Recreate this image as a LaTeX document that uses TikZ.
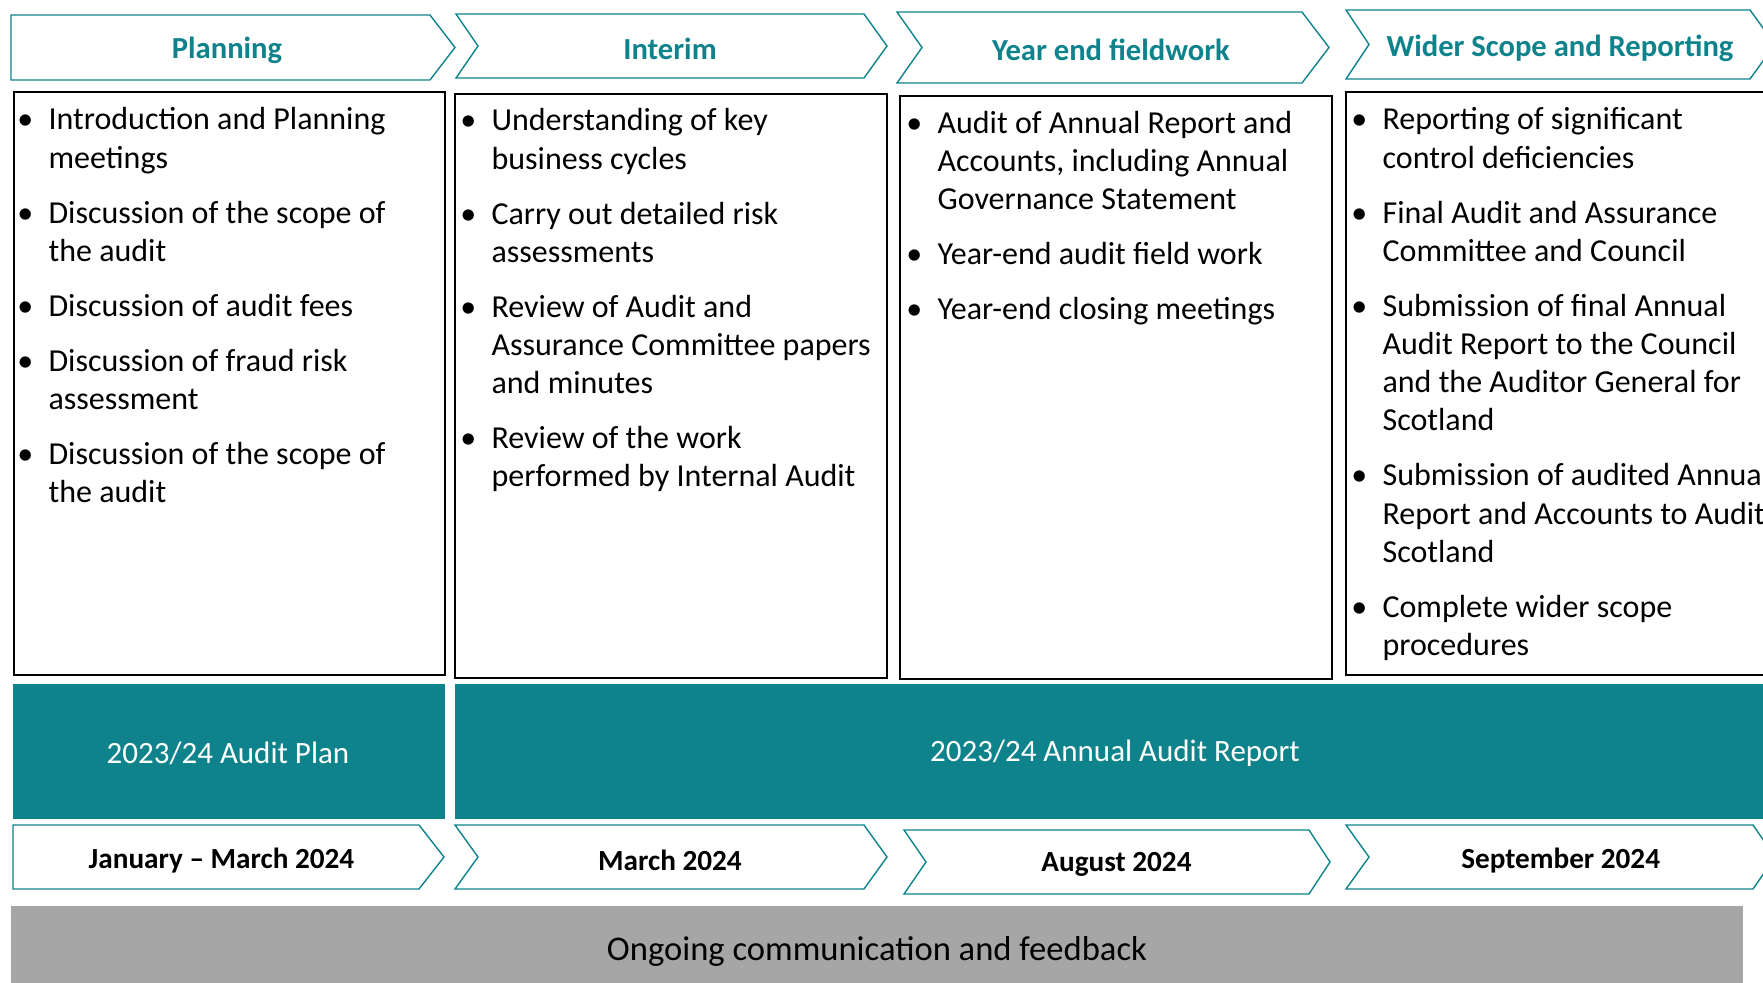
\documentclass[tikz,border=0pt]{standalone}
\usepackage{fontspec}
\setmainfont{Carlito}
\definecolor{teal1}{HTML}{0F838C}
\definecolor{gray1}{HTML}{A6A6A6}
\tikzset{
 chev/.style={draw=teal1, line width=0.7pt, fill=white, line join=miter},
 box/.style={draw=black, line width=1pt},
 band/.style={fill=teal1},
 head/.style={font=\fontsize{15.3}{18}\selectfont\bfseries, text=teal1, inner sep=0pt},
 datetxt/.style={font=\fontsize{14.6}{18}\selectfont\bfseries, text=black, inner sep=0pt},
 bandtxt/.style={font=\fontsize{15.5}{18}\selectfont, text=white, inner sep=0pt},
 graytxt/.style={font=\fontsize{17.3}{20}\selectfont, text=black, inner sep=0pt},
 blist/.style={anchor=base west, inner sep=0pt, font=\fontsize{16}{19.1}\selectfont},
}
\newcommand\mylist[1]{\begin{tabular}[t]{@{}p{15.6pt}@{}l@{}}#1\end{tabular}}
\begin{document}
\begin{tikzpicture}[x=0.5pt,y=-0.5pt]
\useasboundingbox (0,0) rectangle (1763,983);
\clip (0,0) rectangle (1763,983);
\fill[white] (0,0) rectangle (1763,983);
% top chevrons
\draw[chev] (11,15) -- (430,15) -- (455,47.5) -- (430,80) -- (11,80) -- cycle;
\draw[chev] (456,14) -- (864,14) -- (887,46) -- (864,78) -- (456,78) -- (478,46) -- cycle;
\draw[chev] (897,12) -- (1302,12) -- (1329,47.5) -- (1302,83) -- (897,83) -- (922,47.5) -- cycle;
\draw[chev] (1346,10) -- (1750,10) -- (1775,44.5) -- (1750,79) -- (1346,79) -- (1369,44.5) -- cycle;
\node[head] (h1) at (227,50) {Planning};
\node[head] (h2) at (670,49) {Interim};
\node[head] (h3) at (1111,50) {Year end fieldwork};
\node[head] (h4) at (1560,48) {Wider Scope and Reporting};
% content boxes
\draw[box] (13.5,92) rectangle (445,675);
\draw[box] (455,94) rectangle (887,678);
\draw[box] (900,96) rectangle (1332,679);
\draw[box] (1346,92) rectangle (1790,675);
\node[blist] (l1) at (17,130) {\mylist{%
• & Introduction and Planning\\
  & meetings\\[8.4pt]
• & Discussion of the scope of\\
  & the audit\\[8.4pt]
• & Discussion of audit fees\\[8.4pt]
• & Discussion of fraud risk\\
  & assessment\\[8.4pt]
• & Discussion of the scope of\\
  & the audit}};
\node[blist] (l2) at (460,131) {\mylist{%
• & Understanding of key\\
  & business cycles\\[8.4pt]
• & Carry out detailed risk\\
  & assessments\\[8.4pt]
• & Review of Audit and\\
  & Assurance Committee papers\\
  & and minutes\\[8.4pt]
• & Review of the work\\
  & performed by Internal Audit}};
\node[blist] (l3) at (906,133.5) {\mylist{%
• & Audit of Annual Report and\\
  & Accounts, including Annual\\
  & Governance Statement\\[8.4pt]
• & Year-end audit field work\\[8.4pt]
• & Year-end closing meetings}};
\node[blist] (l4) at (1351,130) {\mylist{%
• & Reporting of significant\\
  & control deficiencies\\[8.4pt]
• & Final Audit and Assurance\\
  & Committee and Council\\[8.4pt]
• & Submission of final Annual\\
  & Audit Report to the Council\\
  & and the Auditor General for\\
  & Scotland\\[8.4pt]
• & Submission of audited Annual\\
  & Report and Accounts to Audit\\
  & Scotland\\[8.4pt]
• & Complete wider scope\\
  & procedures}};
% teal bands
\fill[band] (13,684) rectangle (445,819);
\fill[band] (455,684) rectangle (1790,819);
\node[bandtxt] (b1) at (228,753) {2023/24 Audit Plan};
\node[bandtxt] (b2) at (1115,753) {2023/24 Annual Audit Report};
% date chevrons
\draw[chev] (13,825) -- (419,825) -- (444,857) -- (419,889) -- (13,889) -- cycle;
\draw[chev] (455,825) -- (864,825) -- (887,857) -- (864,889) -- (455,889) -- (478,857) -- cycle;
\draw[chev] (904,830) -- (1309,830) -- (1330,862) -- (1309,894) -- (904,894) -- (926,862) -- cycle;
\draw[chev] (1346,825) -- (1753,825) -- (1775,857) -- (1753,889) -- (1346,889) -- (1369,857) -- cycle;
\node[datetxt] (d1) at (221.5,861) {January – March 2024};
\node[datetxt] (d2) at (670,860) {March 2024};
\node[datetxt] (d3) at (1116.5,864) {August 2024};
\node[datetxt] (d4) at (1560.7,861) {September 2024};
% gray band
\fill[gray1] (11,906) rectangle (1743,995);
\node[graytxt] (g1) at (877,951) {Ongoing communication and feedback};
\end{tikzpicture}
\end{document}
